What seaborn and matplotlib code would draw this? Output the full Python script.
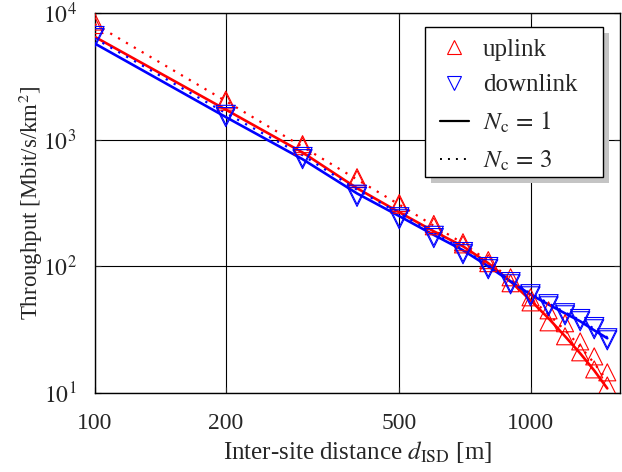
import numpy as np
import pandas as pd
import matplotlib
matplotlib.use("Agg")
import matplotlib.pyplot as plt
from matplotlib.lines import Line2D
from matplotlib.patches import Rectangle
import seaborn as sns

# ---------------- data ----------------
isd = [100, 200, 300, 400, 500, 600, 700, 800, 900, 1000, 1100, 1200, 1300, 1400, 1500]

ul_nc1_line = [6470, 1722, 791, 413, 267, 189, 144, 106, 76, 54, 38.9, 28.1, 20.6, 15.1, 10.9]
ul_nc3_line = [8140, 2010, 877, 484, 307, 209, 152, 110, 79, 56, 41.9, 31.3, 23.4, 17.2, 12.6]
dl_nc1_line = [5735, 1505, 700, 376, 249, 177, 134, 100, 76, 60, 50, 42.6, 36.9, 31.3, 27.1]
dl_nc3_line = [6290, 1616, 753, 402, 262, 184, 136, 102, 77.6, 61.4, 51.1, 43.4, 37.6, 32.2, 27.6]

ul_marks_a = [8520, 2065, 920, 505, 316, 216, 155, 112, 82, 57, 45, 35.6, 25.6, 19.5, 14.6]
ul_marks_b = [8000, 1990, 887, 487, 306, 207, 149, 106, 73.6, 52, 36.2, 28.1, 21.0, 15.4, 11.5]
dl_marks_a = [6300, 1503, 700, 353, 235, 167, 124.6, 94.9, 72.2, 58, 48.4, 41.1, 36.9, 31.9, 26.1]
dl_marks_b = [6550, 1565, 728, 367, 244, 174, 129.6, 98.7, 75.1, 60.3, 50.3, 42.7, 38.4, 33.2, 27.1]

x_ticks = [100, 200, 500, 1000]
x_tick_labels = ["100", "200", "500", "1000"]
y_ticks = [10, 100, 1000, 10000]
y_tick_labels = [r"$10^{1}$", r"$10^{2}$", r"$10^{3}$", r"$10^{4}$"]

legend_labels = ["uplink", "downlink", r"$N_\mathrm{c}\,=\,1$", r"$N_\mathrm{c}\,=\,3$"]

# ---------------- style ----------------
sns.set_style("ticks")
plt.rcParams["font.family"] = ["Liberation Serif", "DejaVu Serif"]
plt.rcParams["mathtext.fontset"] = "stix"
FS_TICK = 17
FS_XLAB = 18
FS_YLAB = 16.5
FS_LEG = 18

fig = plt.figure(figsize=(6.22, 4.72), dpi=100)
ax = fig.add_axes([0.152, 0.167, 0.844, 0.806])

RED = "#ff0000"
BLUE = "#0000ff"

sns.lineplot(x=isd, y=ul_nc1_line, ax=ax, color=RED, lw=1.9, zorder=3)
sns.lineplot(x=isd, y=ul_nc3_line, ax=ax, color=RED, lw=1.6, ls=(0, (1, 3.1)), zorder=3)
sns.lineplot(x=isd, y=dl_nc1_line, ax=ax, color=BLUE, lw=1.9, zorder=3)
sns.lineplot(x=isd, y=dl_nc3_line, ax=ax, color=BLUE, lw=1.6, ls=(0, (1, 3.1)), zorder=3)

for vals in (ul_marks_a, ul_marks_b):
    sns.scatterplot(x=isd, y=vals, ax=ax, marker="^", s=150, fc="none",
                    ec=RED, linewidth=0.8, zorder=4)
for vals in (dl_marks_a, dl_marks_b):
    sns.scatterplot(x=isd, y=vals, ax=ax, marker="v", s=190, fc="none",
                    ec=BLUE, linewidth=0.8, zorder=4)

ax.set_xscale("log")
ax.set_yscale("log")
ax.set_xlim(100, 1600)
ax.set_ylim(10, 10000)
ax.set_xticks(x_ticks)
ax.set_xticklabels(x_tick_labels)
ax.set_yticks(y_ticks)
ax.set_yticklabels(y_tick_labels)
ax.xaxis.set_minor_locator(matplotlib.ticker.NullLocator())
ax.yaxis.set_minor_locator(matplotlib.ticker.NullLocator())
ax.tick_params(axis="both", which="major", direction="in", length=4, width=0.8,
               labelsize=FS_TICK, top=True, right=True)
ax.tick_params(axis="x", pad=14)
ax.tick_params(axis="y", pad=13)
ax.grid(True, which="major", color="black", lw=0.8)
for sp in ax.spines.values():
    sp.set_visible(True)
    sp.set_color("black")
    sp.set_linewidth(1.0)

ax.set_xlabel(r"Inter-site distance $d_\mathrm{ISD}$ [m]", fontsize=FS_XLAB, labelpad=4)
ax.set_ylabel(r"Throughput [Mbit/s/km$^2$]", fontsize=FS_YLAB, labelpad=-2)

# legend frame with shadow (drawn manually, axes coordinates)
fx, fy, fw, fh = 0.6295, 0.568, 0.3391, 0.3944
shadow = Rectangle((fx + 0.0114, fy - 0.0158), fw, fh, transform=ax.transAxes,
                   facecolor="#c4c4c4", edgecolor="none", zorder=5, clip_on=False)
frame = Rectangle((fx, fy), fw, fh, transform=ax.transAxes, facecolor="white",
                  edgecolor="black", lw=1.0, zorder=6, clip_on=False)
ax.add_patch(shadow)
ax.add_patch(frame)

handles = [
    Line2D([], [], ls="none", marker="^", ms=10, mfc="none", mec=RED, mew=0.8),
    Line2D([], [], ls="none", marker="v", ms=10, mfc="none", mec=BLUE, mew=0.8),
    Line2D([], [], color="black", lw=1.6),
    Line2D([], [], color="black", lw=1.4, ls=(0, (1, 3.1))),
]
leg = ax.legend(handles, legend_labels, loc="upper left", bbox_to_anchor=(0.658, 0.933),
                borderaxespad=0, borderpad=0, fontsize=FS_LEG, frameon=False,
                handlelength=1.16, handletextpad=0.56, labelspacing=0.53)
leg.set_zorder(7)

fig.savefig("out.png", dpi=100)
